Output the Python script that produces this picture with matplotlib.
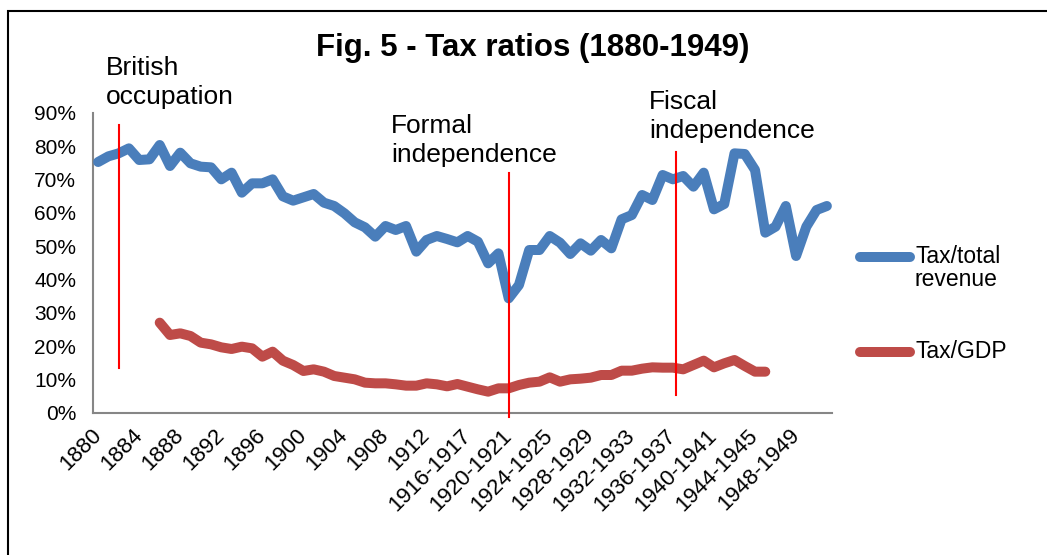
import matplotlib
matplotlib.use("Agg")
import matplotlib.pyplot as plt
from matplotlib.lines import Line2D
from matplotlib.patches import Rectangle
import numpy as np

plt.rcParams['font.family'] = ['Liberation Sans', 'DejaVu Sans']

# Periods: calendar years up to 1915, fiscal years afterwards
years = [str(y) for y in range(1880, 1916)]
fiscal_years = [f"{y}-{y + 1}" for y in range(1916, 1952)]
periods = years + fiscal_years

# Tax / total revenue (%), one value per period
tax_total_revenue = [
    75.3, 77.0, 77.9, 79.4, 75.9, 76.1, 80.4, 74.1, 78.1, 74.9,
    73.9, 73.7, 70.1, 72.1, 66.1, 68.9, 68.9, 70.1, 65.0, 63.7,
    64.7, 65.7, 63.1, 62.1, 59.9, 57.2, 55.7, 52.9, 56.1, 54.9,
    56.1, 48.4, 51.9, 53.1, 52.2, 51.2, 53.1, 51.4, 44.9, 47.9,
    34.4, 38.4, 48.9, 48.9, 53.1, 51.1, 47.7, 50.9, 48.7, 51.9,
    49.4, 58.1, 59.4, 65.4, 63.9, 71.4, 70.1, 71.1, 67.9, 72.1,
    61.1, 62.7, 77.9, 77.7, 72.9, 54.1, 55.9, 62.1, 47.1, 55.9,
    60.9, 62.1,
]

# Tax / GDP (%), available from 1886 to 1945-1946
tax_gdp = [None] * 6 + [
    27.1, 23.4, 23.9, 23.1, 21.1, 20.6, 19.7, 19.2, 19.9, 19.4,
    16.9, 18.4, 15.7, 14.4, 12.6, 13.1, 12.4, 11.1, 10.6, 10.1,
    9.1, 8.9, 8.9, 8.6, 8.2, 8.2, 8.9, 8.6, 8.0, 8.7,
    7.9, 7.1, 6.4, 7.4, 7.4, 8.4, 9.1, 9.4, 10.7, 9.4,
    10.1, 10.3, 10.6, 11.4, 11.4, 12.7, 12.7, 13.3, 13.7, 13.6,
    13.6, 13.1, 14.4, 15.7, 13.7, 14.9, 15.9, 14.1, 12.4, 12.4,
] + [None] * 6

# Historical markers: (label, position on period axis, line bottom %, line top %)
events = [
    ("British\noccupation", 2.0, 13.5, 86.4),
    ("Formal\nindependence", 40.0, -1.1, 71.9),
    ("Fiscal\nindependence", 56.3, 5.4, 78.4),
]
event_text_px = [(106, 56), (391, 114), (649, 90)]

blue = '#4A7EBB'
red = '#BE4B48'

W, H = 1047, 555
fig = plt.figure(figsize=(W / 100, H / 100), dpi=100)
fig.patch.set_facecolor('white')


def fx(x):
    return x / W


def fy(y):
    return 1 - y / H


ax = fig.add_axes([fx(93), fy(413), fx(832) - fx(93), fy(113) - fy(413)])

x = np.arange(len(periods))
gdp = np.array([np.nan if v is None else v for v in tax_gdp], dtype=float)

ax.plot(x, tax_total_revenue, color=blue, lw=7.2, solid_capstyle='round',
        solid_joinstyle='round', zorder=3)
ax.plot(x, gdp, color=red, lw=7.2, solid_capstyle='round',
        solid_joinstyle='round', zorder=3)

for label, pos, lo, hi in events:
    ax.plot([pos, pos], [lo, hi], color='#FF0000', lw=1.5, clip_on=False, zorder=4)

for (label, *_), (tx, ty) in zip(events, event_text_px):
    fig.text(fx(tx), fy(ty), label, ha='left', va='top', fontsize=19,
             linespacing=1.25, color='black')

ax.set_xlim(-0.5, len(periods) - 0.5)
ax.set_ylim(0, 90)
ax.set_yticks(np.arange(0, 91, 10))
ax.set_yticklabels([f"{v}%" for v in range(0, 91, 10)], fontsize=15)
ax.set_xticks(x[::4])
ax.set_xticklabels(periods[::4], rotation=45, ha='right', va='center',
                   rotation_mode='anchor', fontsize=16)
ax.tick_params(axis='y', length=0, pad=12)
ax.tick_params(axis='x', length=0, pad=14)

for side in ('top', 'right'):
    ax.spines[side].set_visible(False)
for side in ('left', 'bottom'):
    ax.spines[side].set_color('#868686')
    ax.spines[side].set_linewidth(1.5)

fig.text(fx(533), fy(48), 'Fig. 5 - Tax ratios (1880-1949)', ha='center',
         va='center', fontsize=22.5, fontweight='bold')

# Legend drawn by hand so the handle lines up with the first text line
fig.add_artist(Line2D([fx(860), fx(910)], [fy(257), fy(257)], color=blue,
                      lw=7.2, solid_capstyle='round'))
fig.text(fx(915), fy(257), 'Tax/total', ha='left', va='center', fontsize=16.5)
fig.text(fx(915), fy(280), 'revenue', ha='left', va='center', fontsize=16.5)
fig.add_artist(Line2D([fx(860), fx(910)], [fy(352), fy(352)], color=red,
                      lw=7.2, solid_capstyle='round'))
fig.text(fx(915), fy(352), 'Tax/GDP', ha='left', va='center', fontsize=16.5)

# Outer frame, open towards the right and bottom edges
fig.add_artist(Rectangle((fx(8), -0.1), 1.2, fy(11) + 0.1, fill=False,
                         edgecolor='black', lw=1.5, transform=fig.transFigure))

fig.savefig('out.png', dpi=100, facecolor='white')
